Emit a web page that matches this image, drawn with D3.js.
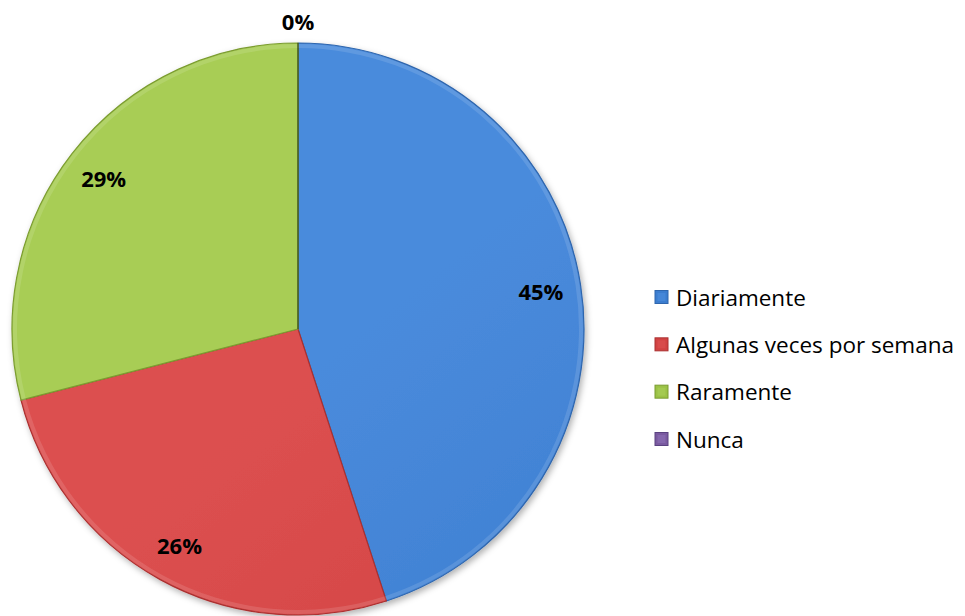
<!DOCTYPE html>
<html>
<head>
<meta charset="utf-8">
<script src="https://cdn.jsdelivr.net/npm/d3@7/dist/d3.min.js"></script>
<style>
  html, body { margin: 0; padding: 0; background: #ffffff; }
  svg { display: block; }
</style>
</head>
<body>
<svg id="chart" width="965" height="616"></svg>
<script>
// Frecuencia de uso
const categories = ["Diariamente", "Algunas veces por semana", "Raramente", "Nunca"];
const values = [45, 26, 29, 0];
const labels = ["45%", "26%", "29%", "0%"];
const colors = ["#3c7dcf", "#d14242", "#9bc246", "#7a5aa0"];
const lightColors = ["#4a8bdc", "#dc5050", "#a8cd55", "#8a6cb2"];
const darkColors = ["#2f66ad", "#aa3030", "#7b9c30", "#5a4280"];

const svg = d3.select("#chart");
const cx = 298, cy = 329, r = 286;

const defs = svg.append("defs");

// soft shadow under the pie
const shadow = defs.append("filter").attr("id", "shadow")
  .attr("x", "-10%").attr("y", "-10%").attr("width", "120%").attr("height", "120%");
shadow.append("feDropShadow").attr("dx", 2).attr("dy", 3).attr("stdDeviation", 3)
  .attr("flood-color", "#000").attr("flood-opacity", 0.3);

categories.forEach((c, i) => {
  const g = defs.append("linearGradient").attr("id", "grad" + i)
    .attr("gradientUnits", "userSpaceOnUse")
    .attr("x1", cx - r).attr("y1", cy - r).attr("x2", cx + r * 0.6).attr("y2", cy + r);
  g.append("stop").attr("offset", "0%").attr("stop-color", lightColors[i]);
  g.append("stop").attr("offset", "60%").attr("stop-color", colors[i]);
  g.append("stop").attr("offset", "100%").attr("stop-color", darkColors[i]);
});

const pie = d3.pie().sort(null).value(d => d.value);
const data = pie(categories.map((c, i) => ({ name: c, value: values[i], label: labels[i], i })));

const arc = d3.arc().innerRadius(0).outerRadius(r);
const bevel = d3.arc().innerRadius(r - 5).outerRadius(r - 1);
const labelArc = d3.arc().innerRadius(r * 0.86).outerRadius(r * 0.86);
const outerLabelArc = d3.arc().innerRadius(r + 22).outerRadius(r + 22);

const pieG = svg.append("g").attr("transform", `translate(${cx},${cy})`);

pieG.append("g").attr("filter", "url(#shadow)")
  .selectAll("path").data(data.filter(d => d.value > 0)).join("path")
  .attr("d", arc)
  .attr("fill", d => `url(#grad${d.data.i})`)
  .attr("stroke", d => darkColors[d.data.i])
  .attr("stroke-width", 1.2)
  .attr("stroke-linejoin", "round");

// bevel highlight along the rim
pieG.append("g").selectAll("path").data(data.filter(d => d.value > 0)).join("path")
  .attr("d", bevel)
  .attr("fill", "#ffffff")
  .attr("opacity", 0.12);

// thin separator at the zero-size slice
pieG.selectAll("line.zero").data(data.filter(d => d.value === 0)).join("line")
  .attr("class", "zero")
  .attr("x1", 0).attr("y1", 0)
  .attr("x2", d => r * Math.sin(d.startAngle))
  .attr("y2", d => -r * Math.cos(d.startAngle))
  .attr("stroke", "#3a4a20").attr("stroke-width", 1.2);

pieG.selectAll("text.lbl").data(data).join("text")
  .attr("class", "lbl")
  .attr("transform", d => `translate(${(d.value > 0 ? labelArc : outerLabelArc).centroid(d)})`)
  .attr("text-anchor", "middle")
  .attr("dominant-baseline", "central")
  .attr("font-family", "'Open Sans', 'Noto Sans', sans-serif")
  .attr("font-weight", "bold")
  .attr("font-size", 22)
  .attr("fill", "#000")
  .text(d => d.data.label);

// legend
const legendY = d3.scalePoint().domain(categories).range([297, 439]);
const legend = svg.append("g");
const item = legend.selectAll("g").data(categories).join("g")
  .attr("transform", d => `translate(655,${legendY(d)})`);
item.append("rect")
  .attr("x", 0).attr("y", -6.5).attr("width", 13).attr("height", 13)
  .attr("fill", (d, i) => colors[i])
  .attr("stroke", (d, i) => darkColors[i]).attr("stroke-width", 1);
item.append("rect")
  .attr("x", 2.5).attr("y", -4).attr("width", 8).attr("height", 8)
  .attr("fill", (d, i) => lightColors[i]).attr("opacity", 0.7);
item.append("text")
  .attr("x", 21).attr("y", 0)
  .attr("dominant-baseline", "central")
  .attr("font-family", "'Open Sans', 'Noto Sans', sans-serif")
  .attr("font-size", 22.5)
  .attr("fill", "#000")
  .text(d => d);
</script>
</body>
</html>
